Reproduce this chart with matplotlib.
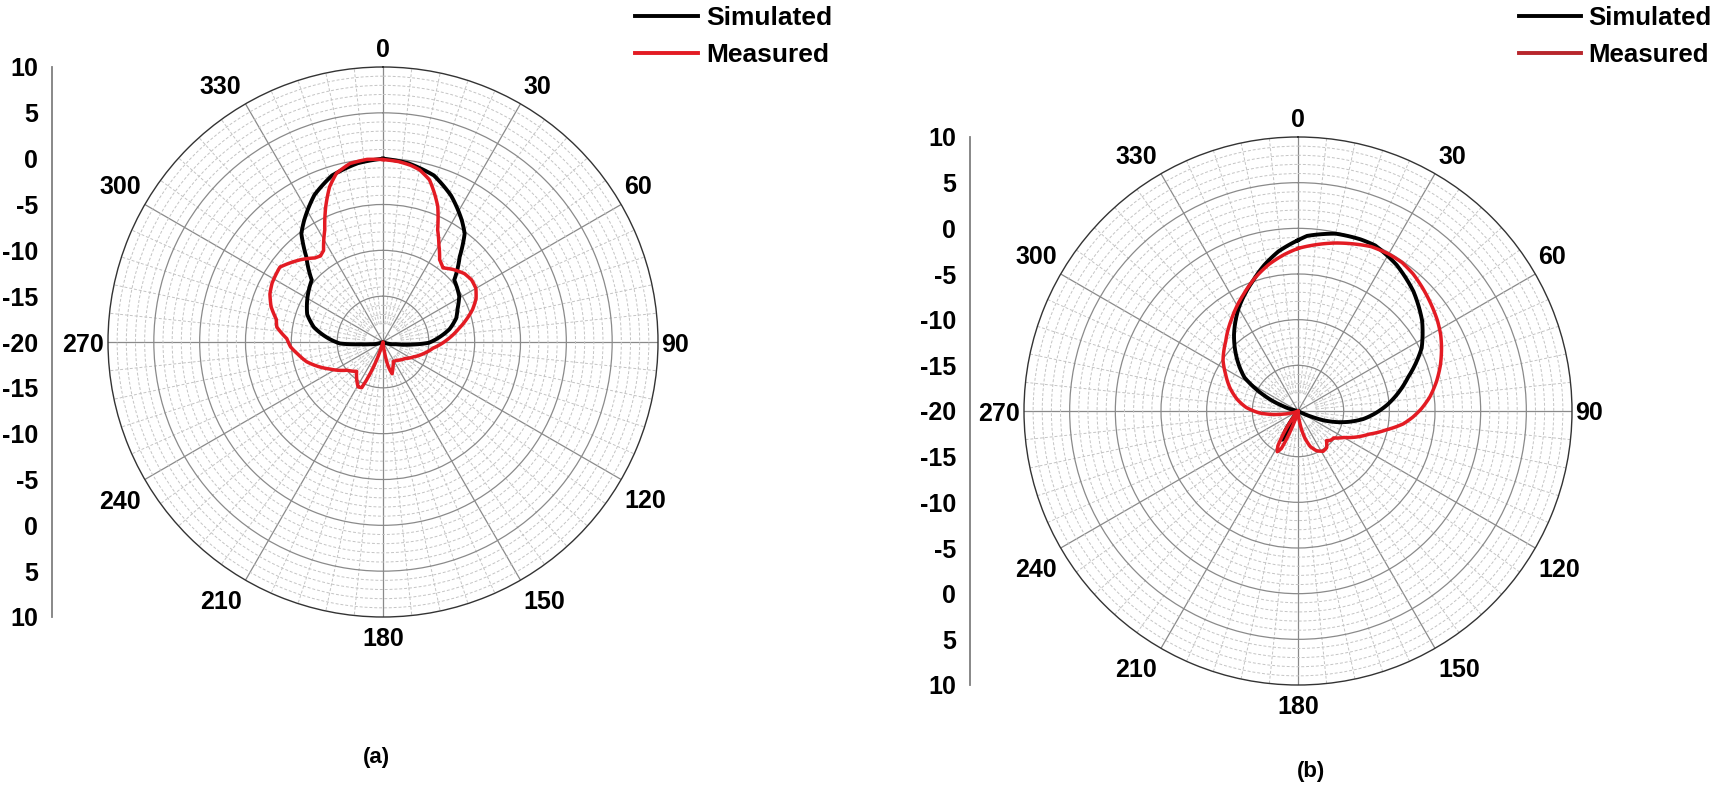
import numpy as np
import matplotlib
matplotlib.use('Agg')
import matplotlib.pyplot as plt
from matplotlib.lines import Line2D
from matplotlib.ticker import FixedLocator

plt.rcParams['font.family'] = ['Liberation Sans', 'DejaVu Sans']
plt.rcParams['font.weight'] = 'bold'

# ---- data (angle in degrees, gain in dB) ----
sim_a_deg = [0, 8, 17, 25, 33, 37, 42, 49, 59, 66, 72, 79, 87, 91, 95, 100, 108, 115,
             245, 252, 260, 264, 268, 273, 282, 290, 301, 311, 318, 323, 327, 335, 343, 352, 360]
sim_a_db = [0.0, -0.3, -1.0, -2.4, -4.2, -5.2, -7.5, -9.7, -10.3, -11.1, -11.6, -12.6, -14.2, -15.0, -16.8, -18.6, -19.4, -20,
            -20, -19.5, -18.6, -17.6, -15.3, -14.2, -12.3, -11.2, -10.4, -9.7, -7.5, -5.2, -4.2, -2.3, -1.0, -0.3, 0.0]

meas_a_deg = [0, 5, 9, 12, 16, 19, 22, 26, 30, 34.5, 39, 44, 50, 55, 60, 65, 70, 75, 80, 88,
              97, 106, 116, 127, 143, 152, 159, 164, 168, 172, 176, 196, 205, 209, 222, 232, 243,
              255.5, 262, 267, 272, 278, 282, 287.5, 293, 298, 306, 315, 321, 324, 327, 332.6,
              337, 341, 344.6, 349.5, 355, 360]
meas_a_db = [-0.1, -0.25, -0.5, -0.8, -1.6, -2.8, -4.05, -6.4, -7.8, -9.1, -9.6, -9.0, -8.4, -8.2, -8.3, -8.8, -9.6, -10.6, -11.6, -13.0,
             -14.5, -15.4, -16.3, -17.0, -17.5, -17.6, -17.0, -16.4, -17.3, -19.0, -20, -20, -14.5, -14.4, -15.7, -15.0, -13.5,
             -11.4, -10.6, -9.9, -9.5, -8.3, -8.1, -7.2, -6.6, -6.3, -6.1, -7.3, -8.2, -8.4, -8.1, -6.2,
             -4.0, -2.1, -0.9, -0.2, 0.0, -0.1]

sim_b_deg = [0, 3, 12, 20, 25, 34, 44, 54, 63, 73, 80, 86, 92, 97, 102, 106, 110, 113, 118,
             200, 205, 209, 213, 218, 280, 288, 295, 302, 311, 320, 330, 341, 347, 353, 360]
sim_b_db = [-1.3, -0.8, -0.15, 0.0, 0.0, -0.7, -1.8, -3.2, -4.8, -7.4, -8.9, -10.2, -11.6, -12.8, -14.3, -15.6, -17.0, -18.4, -20,
            -20, -17.5, -16.4, -17.5, -20, -20, -18.3, -15.8, -13.1, -11.1, -9.1, -7.0, -4.9, -3.6, -2.4, -1.3]

meas_b_deg = [0, 6, 12, 18, 24, 30, 35, 40, 45, 51, 57, 62, 66, 72, 78, 84, 89, 93, 97, 102,
              108, 114, 120, 127, 132, 136, 142, 148, 155, 161, 166, 172, 178, 196, 201, 204, 207,
              210, 214, 218, 245, 252, 258, 263, 267, 274, 281, 289, 297, 304, 314, 324, 335, 342,
              349, 355, 360]
meas_b_db = [-2.2, -1.7, -1.2, -0.75, -0.3, -0.15, -0.15, -0.4, -0.8, -1.3, -1.8, -2.3, -2.8, -3.6, -4.5, -5.5, -6.5, -7.4, -8.4, -10.1,
             -11.8, -13.0, -14.2, -15.1, -15.2, -15.5, -14.9, -14.8, -15.2, -15.9, -17.0, -18.8, -20, -20, -17.5, -15.5, -15.0,
             -15.6, -17.8, -20, -20, -19.4, -18.4, -17.0, -15.8, -14.3, -13.2, -12.1, -11.1, -10.1, -9.0, -7.6, -5.9, -4.7,
             -3.6, -2.8, -2.2]

angle_ticks = [0, 30, 60, 90, 120, 150, 180, 210, 240, 270, 300, 330]
angle_labels = ['0', '30', '60', '90', '120', '150', '180', '210', '240', '270', '300', '330']
major_rings = [-15, -10, -5, 0, 5]
minor_rings = [v for v in range(-19, 10) if v % 5 != 0]
scale_pos = [30, 25, 20, 15, 10, 5, 0, -5, -10, -15, -20, -25, -30]
scale_labels = ['10', '5', '0', '-5', '-10', '-15', '-20', '-15', '-10', '-5', '0', '5', '10']
legend_labels = ['Simulated', 'Measured']

W, H = 1720, 786
RED = '#e31b23'
fig = plt.figure(figsize=(W / 100, H / 100), dpi=100)


def px_box(cx, cy, r):
    return [(cx - r) / W, (H - cy - r) / H, 2 * r / W, 2 * r / H]


def draw_panel(cx, cy, r, axis_x, sdeg, sdb, mdeg, mdb, leg_x, leg_fs, leg_red, caption, cap_xy):
    box = px_box(cx, cy, r)
    ax = fig.add_axes(box, projection='polar')
    ax.set_theta_zero_location('N')
    ax.set_theta_direction(-1)
    ax.set_ylim(-20, 10)
    ax.set_xticks(np.deg2rad(angle_ticks))
    ax.set_xticklabels([])
    ax.set_yticks(major_rings)
    ax.set_yticklabels([])
    ax.yaxis.set_minor_locator(FixedLocator(minor_rings))
    ax.grid(which='major', color='#8a8a8a', lw=0.9, ls='-')
    ax.grid(which='minor', axis='y', color='#c4c4c4', lw=0.7, ls=(0, (3, 2)))
    ax.tick_params(which='both', length=0)
    ax.spines['polar'].set_color('#333333')
    ax.spines['polar'].set_linewidth(1.0)
    for a in range(0, 360, 6):
        if a % 30:
            ax.plot([np.deg2rad(a)] * 2, [-18, 10], color='#c4c4c4', lw=0.7,
                    ls=(0, (3, 2)), zorder=1)

    sl, = ax.plot(np.deg2rad(sdeg), np.clip(sdb, -20, 10), color='black', lw=2.8,
                  zorder=3, solid_joinstyle='round')
    ml, = ax.plot(np.deg2rad(mdeg), np.clip(mdb, -20, 10), color=RED, lw=2.5,
                  zorder=4, solid_joinstyle='round')
    # draw the curves along the polar grid between read points (like a smoothed radar line)
    for ln in (sl, ml):
        ln.get_path()._interpolation_steps = 6

    for deg, lab in zip(angle_ticks, angle_labels):
        s, c = np.sin(np.deg2rad(deg)), np.cos(np.deg2rad(deg))
        if abs(s) < 0.01:
            ha, ox = 'center', 0
        elif s > 0:
            ha, ox = 'left', 3
        else:
            ha, ox = 'right', -4
        if c > 0.01:
            va, oy = 'baseline', 10
        elif c < -0.01:
            va, oy = 'top', -10
        else:
            va, oy = 'center_baseline', 0
        ax.annotate(lab, xy=(np.deg2rad(deg), 10), xytext=(ox, oy), textcoords='offset pixels',
                    ha=ha, va=va, fontsize=18, fontweight='bold', annotation_clip=False)

    axl = fig.add_axes([axis_x / W, box[1], 0.0005, box[3]])
    axl.set_ylim(-30, 30)
    axl.set_yticks(scale_pos)
    axl.set_yticklabels(scale_labels)
    axl.set_xticks([])
    for side in ['top', 'right', 'bottom']:
        axl.spines[side].set_visible(False)
    axl.spines['left'].set_color('#7f7f7f')
    axl.spines['left'].set_linewidth(1.3)
    axl.tick_params(axis='y', length=0, pad=10, labelsize=18)
    axl.patch.set_alpha(0)

    handles = [Line2D([], [], color='black', lw=2.8), Line2D([], [], color=leg_red, lw=2.8)]
    fig.legend(handles, legend_labels, loc='upper left', bbox_to_anchor=(leg_x / W, 1 - 6 / H),
               frameon=False, borderpad=0, borderaxespad=0, handlelength=2.4,
               handletextpad=0.3, labelspacing=0.5, fontsize=leg_fs)

    fig.text(cap_xy[0] / W, 1 - cap_xy[1] / H, caption, ha='center', va='center', fontsize=16)


draw_panel(383, 342, 275, 52, sim_a_deg, sim_a_db, meas_a_deg, meas_a_db, 635, 19, RED, '(a)', (376, 758))
draw_panel(1298, 411, 274, 970, sim_b_deg, sim_b_db, meas_b_deg, meas_b_db, 1519, 18.5, '#b8262c', '(b)', (1311, 772))

fig.savefig('out.png', dpi=100)
